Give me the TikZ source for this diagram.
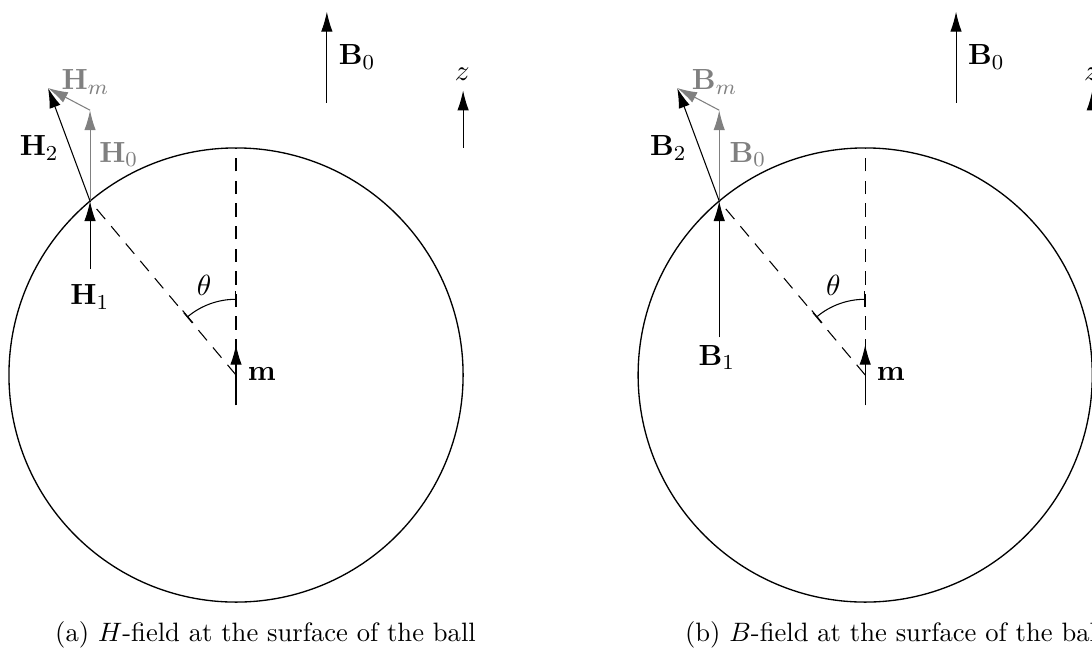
\documentclass[tikz,border=0pt]{standalone}
\usetikzlibrary{arrows.meta,calc}
\tikzset{
  vec/.style={-{Latex[length=7.5pt,width=4.3pt]}},
  grayvec/.style={vec,gray},
  guide/.style={dash pattern=on 5pt off 3.5pt},
  anglemark/.style={{Bar[width=6pt]}-{Bar[width=6pt]}},
  ball/.style={line width=0.5pt},
  lbl/.style={inner sep=0pt,font=\fontsize{10.95pt}{13.6pt}\selectfont},
  graylbl/.style={lbl,text=gray},
  caplbl/.style={inner sep=0pt,anchor=base},
}
\begin{document}
\begin{tikzpicture}
\useasboundingbox (-3.118,-3.606) rectangle (11.308,4.954);
\clip (-3.118,-3.606) rectangle (11.308,4.954);

% ---------- panel (a) ----------
\begin{scope}
  \coordinate (aO) at (0,0);
  \coordinate (aS) at (130:3);
  \coordinate (aTop) at (0,3);
  \coordinate (aH1s) at ($(aS)+(0,-0.9)$);
  \coordinate (aH0e) at ($(aS)+(0,1.2)$);
  \coordinate (aH2e) at ($(aS)+(-0.555,1.493)$);
  \coordinate (aMs) at (0,-0.4);
  \coordinate (aMe) at (0,0.4);
  \coordinate (aB0s) at (1.2,3.6);
  \coordinate (aB0e) at (1.2,4.8);
  \coordinate (aZs) at (3,3);
  \coordinate (aZe) at (3,3.76);

  \draw[ball] (aO) circle[radius=3];
  \draw[guide] (aO) -- (aTop);
  \draw[guide] (aO) -- (aS);
  \draw[anglemark] (0,1) arc[start angle=90,end angle=130,radius=1];

  \draw[vec] (aMs) -- (aMe);
  \draw[vec] (aH1s) -- (aS);
  \draw[grayvec] (aS) -- (aH0e);
  \draw[grayvec] (aH0e) -- (aH2e);
  \draw[vec] (aS) -- (aH2e);
  \draw[vec] (aB0s) -- (aB0e);
  \draw[vec] (aZs) -- (aZe);

  \node[lbl] (aLm) at (0.34,0.01) {$\mathbf{m}$};
  \node[lbl] (aLth) at (-0.42,1.19) {$\theta$};
  \node[lbl] (aLH1) at (-1.93,1.03) {$\mathbf{H}_1$};
  \node[lbl] (aLH2) at (-2.60,3.00) {$\mathbf{H}_2$};
  \node[graylbl] (aLH0) at (-1.55,2.91) {$\mathbf{H}_0$};
  \node[graylbl] (aLHm) at (-1.99,3.87) {$\mathbf{H}_m$};
  \node[lbl] (aLB0) at (1.60,4.20) {$\mathbf{B}_0$};
  \node[lbl] (aLz) at (2.99,3.97) {$z$};
  \node[caplbl] (aCap) at (0.39,-3.527) {(a) $H$-field at the surface of the ball};
\end{scope}

% ---------- panel (b) ----------
\begin{scope}[xshift=8.312cm]
  \coordinate (bO) at (0,0);
  \coordinate (bS) at (130:3);
  \coordinate (bTop) at (0,3);
  \coordinate (bB1s) at ($(bS)+(0,-1.8)$);
  \coordinate (bB0e) at ($(bS)+(0,1.2)$);
  \coordinate (bB2e) at ($(bS)+(-0.555,1.493)$);
  \coordinate (bMs) at (0,-0.4);
  \coordinate (bMe) at (0,0.4);
  \coordinate (bFs) at (1.2,3.6);
  \coordinate (bFe) at (1.2,4.8);
  \coordinate (bZs) at (3,3);
  \coordinate (bZe) at (3,3.76);

  \draw[ball] (bO) circle[radius=3];
  \draw[guide] (bO) -- (bTop);
  \draw[guide] (bO) -- (bS);
  \draw[anglemark] (0,1) arc[start angle=90,end angle=130,radius=1];

  \draw[vec] (bMs) -- (bMe);
  \draw[vec] (bB1s) -- (bS);
  \draw[grayvec] (bS) -- (bB0e);
  \draw[grayvec] (bB0e) -- (bB2e);
  \draw[vec] (bS) -- (bB2e);
  \draw[vec] (bFs) -- (bFe);
  \draw[vec] (bZs) -- (bZe);

  \node[lbl] (bLm) at (0.34,0.01) {$\mathbf{m}$};
  \node[lbl] (bLth) at (-0.42,1.19) {$\theta$};
  \node[lbl] (bLB1) at (-1.96,0.23) {$\mathbf{B}_1$};
  \node[lbl] (bLB2) at (-2.60,3.00) {$\mathbf{B}_2$};
  \node[graylbl] (bLB0) at (-1.55,2.91) {$\mathbf{B}_0$};
  \node[graylbl] (bLBm) at (-1.99,3.87) {$\mathbf{B}_m$};
  \node[lbl] (bLF) at (1.60,4.20) {$\mathbf{B}_0$};
  \node[lbl] (bLz) at (2.99,3.97) {$z$};
  \node[caplbl] (bCap) at (0.39,-3.527) {(b) $B$-field at the surface of the ball};
\end{scope}
\end{tikzpicture}
\end{document}
